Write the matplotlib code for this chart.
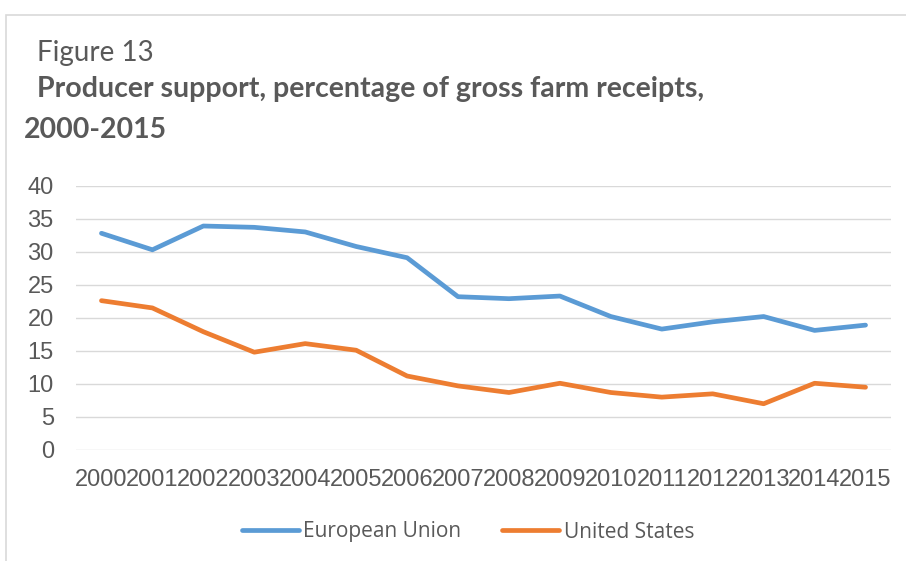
import matplotlib
matplotlib.use("Agg")
import matplotlib.pyplot as plt
from matplotlib.patches import Rectangle

years = [str(y) for y in range(2000, 2016)]
eu = [32.8, 30.3, 33.9, 33.7, 33.0, 30.8, 29.1, 23.2, 22.9, 23.3, 20.2, 18.3, 19.4, 20.2, 18.1, 18.9]
us = [22.6, 21.5, 17.9, 14.8, 16.1, 15.1, 11.2, 9.7, 8.7, 10.1, 8.7, 8.0, 8.5, 7.0, 10.1, 9.5]
series_names = ["European Union", "United States"]
yticks = [0, 5, 10, 15, 20, 25, 30, 35, 40]

W, H = 906, 561
fig = plt.figure(figsize=(W / 100, H / 100), dpi=100)
fig.patch.set_facecolor("white")

# outer frame
fig.add_artist(Rectangle((6 / W, -0.05), 1.2, 1 - 15.5 / H + 0.05, transform=fig.transFigure,
                         fill=False, edgecolor="#D9D9D9", linewidth=1.2))

ax = fig.add_axes([76 / W, 1 - 450 / H, (891 - 76) / W, (450 - 185.7) / H])
x = list(range(len(years)))
ax.plot(x, eu, color="#5B9BD5", linewidth=3.4, solid_capstyle="round", label=series_names[0])
ax.plot(x, us, color="#ED7D31", linewidth=3.4, solid_capstyle="round", label=series_names[1])
ax.set_xlim(-0.5, len(years) - 0.5)
ax.set_ylim(0, 40)
ax.set_yticks(yticks)
ax.set_xticks(x)
ax.set_xticklabels(years)
for s in ax.spines.values():
    s.set_visible(False)
ax.grid(axis="y", color="#D9D9D9", linewidth=1.0)
ax.set_axisbelow(True)
ax.tick_params(axis="both", length=0, labelsize=17, labelcolor="#595959")
ax.tick_params(axis="y", pad=16)
ax.tick_params(axis="x", pad=14)
for lab in ax.get_xticklabels() + ax.get_yticklabels():
    lab.set_fontfamily("Liberation Sans")

fig.text(37 / W, 1 - 61 / H, "Figure 13", fontsize=20, family="Lato", color="#595959", va="baseline")
fig.text(37 / W, 1 - 97 / H, "Producer support, percentage of gross farm receipts,", fontsize=20.5,
         family="Lato", fontweight="bold", color="#595959", va="baseline")
fig.text(24 / W, 1 - 138 / H, "2000-2015", fontsize=20.5, family="Lato", fontweight="bold",
         color="#595959", va="baseline")

leg = fig.legend(loc="center", bbox_to_anchor=(468 / W, 1 - 532 / H), ncol=2, frameon=False,
                 prop={"family": "Open Sans", "size": 15}, handlelength=2.75, handletextpad=0.2,
                 columnspacing=1.95)
for t in leg.get_texts():
    t.set_color("#595959")

fig.savefig("out.png", dpi=100, facecolor="white")
